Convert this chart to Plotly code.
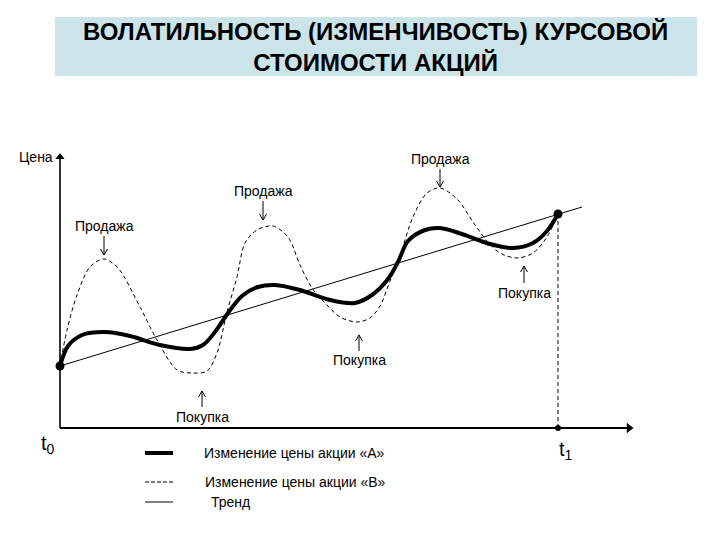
import plotly.graph_objects as go

# ---- data (time from t0, price above the time axis) ----
time_a = [0, 8, 22, 45, 70, 100, 130, 143, 155, 168, 182, 198, 215, 240, 270, 295, 312, 328, 338, 348, 365, 380, 402, 430, 453, 473, 487, 498]
price_a = [62, 82, 93, 96, 92, 83, 79, 83, 96, 115, 132, 141, 143, 138, 128, 125, 133, 149, 166, 187, 198, 200, 194, 184, 180, 185, 197, 214]

time_b = [0, 7, 17, 30, 44, 58, 80, 97, 117, 132, 147, 157, 167, 177, 185, 197, 213, 228, 240, 252, 265, 280, 297, 310, 320, 330, 338, 353, 367, 380, 397, 413, 427, 440, 457, 473, 487, 498]
price_b = [62, 98, 133, 161, 169, 160, 121, 88, 58, 55, 57, 75, 116, 151, 185, 198, 202, 191, 163, 140, 125, 111, 106, 110, 122, 147, 166, 211, 235, 240, 229, 206, 187, 175, 170, 175, 191, 214]

time_trend = [0, 522]
price_trend = [62, 221]

t1_time = 498
t1_price = 214

sell_labels = ["Продажа", "Продажа", "Продажа"]
buy_labels = ["Покупка", "Покупка", "Покупка"]
legend_labels = ["Изменение цены акции «А»", "Изменение цены акции «В»", "Тренд"]
title_text = "ВОЛАТИЛЬНОСТЬ (ИЗМЕНЧИВОСТЬ) КУРСОВОЙ<br>СТОИМОСТИ АКЦИЙ"

W, H = 720, 540
OX, OY = 60, 428  # pixel of the origin


def tx(px):
    return px - OX


def py(pyv):
    return OY - pyv


FONT = "Liberation Sans, Arial, sans-serif"

fig = go.Figure()

# axes
fig.add_trace(go.Scatter(x=[0, 0], y=[0, py(158)], mode="lines",
                         line=dict(color="black", width=1.6), hoverinfo="skip"))
fig.add_trace(go.Scatter(x=[0, tx(628)], y=[0, 0], mode="lines",
                         line=dict(color="black", width=1.8), hoverinfo="skip"))
fig.add_trace(go.Scatter(x=[0], y=[py(157)], mode="markers",
                         marker=dict(symbol="triangle-up", size=8, color="black"), hoverinfo="skip"))
fig.add_trace(go.Scatter(x=[tx(629)], y=[0], mode="markers",
                         marker=dict(symbol="triangle-right", size=9, color="black"), hoverinfo="skip"))

# trend
fig.add_trace(go.Scatter(x=time_trend, y=price_trend, mode="lines",
                         line=dict(color="black", width=1), hoverinfo="skip"))
# stock B (dashed)
fig.add_trace(go.Scatter(x=time_b, y=price_b, mode="lines",
                         line=dict(color="black", width=1, dash="4px,3px", shape="spline", smoothing=0.9),
                         hoverinfo="skip"))
# stock A (thick)
fig.add_trace(go.Scatter(x=time_a, y=price_a, mode="lines",
                         line=dict(color="black", width=4, shape="spline", smoothing=0.9),
                         hoverinfo="skip"))
# vertical dashed at t1
fig.add_trace(go.Scatter(x=[t1_time, t1_time], y=[0, t1_price], mode="lines",
                         line=dict(color="black", width=1, dash="4px,3px"), hoverinfo="skip"))
# dots
fig.add_trace(go.Scatter(x=[time_a[0], t1_time], y=[price_a[0], t1_price], mode="markers",
                         marker=dict(color="black", size=9), hoverinfo="skip"))
fig.add_trace(go.Scatter(x=[t1_time], y=[0], mode="markers",
                         marker=dict(color="black", size=6), hoverinfo="skip"))

ann = []
# sell / buy labels with arrows: (label x, label y, arrow tail y, arrow tip y)
sell_pos = [(440, 159, 169, 187), (263, 191, 201, 220), (104, 226, 236, 255)]
buy_pos = [(524, 293, 283, 266), (359, 360, 351, 335), (202, 417, 407, 391)]
ax_pts, ay_pts = [], []
for lab, (lx, ly, t0y, t1y) in zip(sell_labels + buy_labels, sell_pos + buy_pos):
    ann.append(dict(x=tx(lx), y=py(ly), xref="x", yref="y", text=lab, showarrow=False,
                    font=dict(family=FONT, size=14, color="black")))
    d = 1 if t1y > t0y else -1
    ax_pts += [tx(lx), tx(lx), None, tx(lx - 3.5), tx(lx), tx(lx + 3.5), None]
    ay_pts += [py(t0y), py(t1y), None, py(t1y - 6 * d), py(t1y), py(t1y - 6 * d), None]
fig.add_trace(go.Scatter(x=ax_pts, y=ay_pts, mode="lines", line=dict(color="black", width=1),
                         hoverinfo="skip"))

ann.append(dict(x=tx(36), y=py(157), xref="x", yref="y", text="Цена", showarrow=False,
                font=dict(family=FONT, size=14, color="black")))
ann.append(dict(x=tx(48), y=py(444), xref="x", yref="y", text="t<sub>0</sub>", showarrow=False,
                font=dict(family=FONT, size=20, color="black")))
ann.append(dict(x=tx(566), y=py(450), xref="x", yref="y", text="t<sub>1</sub>", showarrow=False,
                font=dict(family=FONT, size=20, color="black")))

# legend
leg_y = [453, 482, 502]
leg_x = [202, 203, 209]
for lab, lx, ly in zip(legend_labels, leg_x, leg_y):
    ann.append(dict(x=tx(lx), y=py(ly), xref="x", yref="y", text=lab, showarrow=False,
                    xanchor="left", font=dict(family=FONT, size=14, color="black")))

# title
ann.append(dict(x=375 / W, y=1 - 47 / H, xref="paper", yref="paper", text="<b>" + title_text + "</b>",
                showarrow=False, xanchor="center", yanchor="middle",
                font=dict(family=FONT, size=24, color="black")))

shapes = [
    dict(type="rect", xref="paper", yref="paper", x0=55 / W, x1=697 / W, y0=1 - 76 / H, y1=1 - 17 / H,
         fillcolor="#cbe4e9", line=dict(width=0), layer="below"),
    dict(type="line", xref="x", yref="y", x0=tx(145), x1=tx(173), y0=py(leg_y[0]), y1=py(leg_y[0]),
         line=dict(color="black", width=4)),
    dict(type="line", xref="x", yref="y", x0=tx(145), x1=tx(173), y0=py(leg_y[1]), y1=py(leg_y[1]),
         line=dict(color="black", width=1, dash="4px,2px")),
    dict(type="line", xref="x", yref="y", x0=tx(145), x1=tx(173), y0=py(leg_y[2]), y1=py(leg_y[2]),
         line=dict(color="black", width=1)),
]

fig.update_layout(
    width=W, height=H, margin=dict(l=0, r=0, t=0, b=0),
    paper_bgcolor="white", plot_bgcolor="white", showlegend=False,
    xaxis=dict(range=[tx(0), tx(W)], visible=False, fixedrange=True),
    yaxis=dict(range=[py(H), py(0)], visible=False, fixedrange=True),
    annotations=ann, shapes=shapes,
)

fig.write_html("out.html", post_script="document.body.style.margin='0';",
               config={"displayModeBar": False})
